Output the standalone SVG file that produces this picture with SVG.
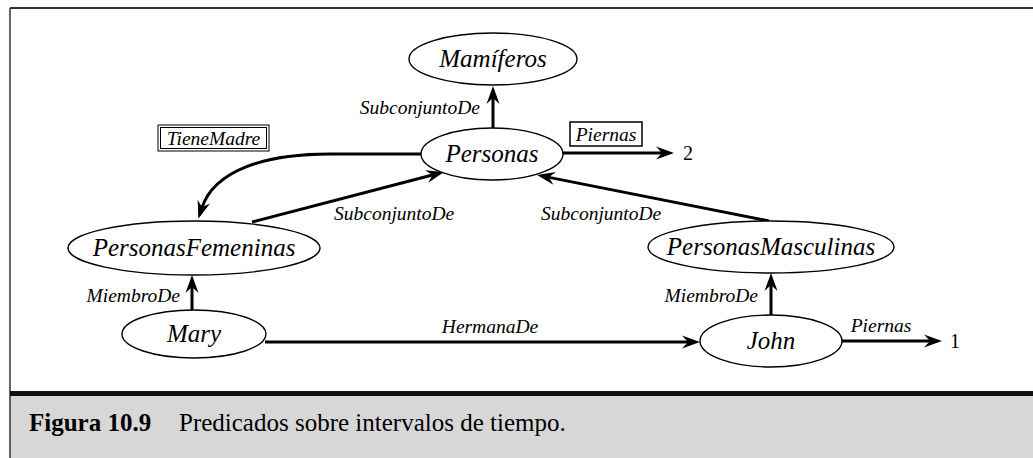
<svg xmlns="http://www.w3.org/2000/svg" width="1033" height="458" viewBox="0 0 1033 458">
<style>
.node ellipse{fill:#fff;stroke:#000;stroke-width:1.4}
.nl{font-family:"Liberation Serif","Times New Roman",serif;font-style:italic;font-size:25px;text-anchor:middle;fill:#000}
.el{font-family:"Liberation Serif","Times New Roman",serif;font-style:italic;font-size:19.5px;fill:#000}
.num{font-family:"Liberation Serif","Times New Roman",serif;font-size:20px;fill:#000}
.edge{fill:none;stroke:#000;stroke-width:3;marker-end:url(#ah)}
.cap{font-family:"Liberation Serif","Times New Roman",serif;font-size:25px;fill:#000}
</style>
<defs>
<marker id="ah" markerUnits="userSpaceOnUse" markerWidth="20" markerHeight="16" viewBox="0 -8 20 16" refX="7" refY="0" orient="auto">
<path d="M0,-6.5 L18,0 L0,6.5 L6,0 Z" fill="#000"/>
</marker>
</defs>
<rect x="0" y="0" width="1033" height="458" fill="#fff"/>
<g id="frame">
<rect x="10" y="396" width="1023" height="62" fill="#d7d7d7"/>
<line x1="10" y1="8" x2="1033" y2="8" stroke="#333" stroke-width="2"/>
<line x1="10" y1="8" x2="10" y2="458" stroke="#333" stroke-width="1.5"/>
<rect x="10" y="391" width="1023" height="5" fill="#111"/>
<text class="cap" x="29" y="431" font-weight="bold">Figura 10.9</text>
<text class="cap" x="179" y="431">Predicados sobre intervalos de tiempo.</text>
</g>
<g id="connectors">
<line class="edge" x1="493" y1="128" x2="493" y2="97"/>
<text class="el" x="480" y="114" text-anchor="end">SubconjuntoDe</text>
<path class="edge" d="M421,154 L330,154 C265,154 214,170 201.7,208.3"/>
<line class="edge" x1="252" y1="222" x2="433.4" y2="174.8"/>
<text class="el" x="334" y="220">SubconjuntoDe</text>
<line class="edge" x1="769" y1="221" x2="547.8" y2="177.1"/>
<text class="el" x="541" y="220">SubconjuntoDe</text>
<line class="edge" x1="563" y1="153" x2="663" y2="153"/>
<text class="num" x="683" y="160">2</text>
<line class="edge" x1="192" y1="310" x2="192" y2="286"/>
<text class="el" x="180" y="302" text-anchor="end">MiembroDe</text>
<line class="edge" x1="771" y1="315" x2="771" y2="284"/>
<text class="el" x="758" y="302" text-anchor="end">MiembroDe</text>
<line class="edge" x1="265" y1="342" x2="689" y2="342"/>
<text class="el" x="490" y="333" text-anchor="middle">HermanaDe</text>
<line class="edge" x1="841" y1="341" x2="931" y2="341"/>
<text class="el" x="881" y="332" text-anchor="middle">Piernas</text>
<text class="num" x="950" y="348">1</text>
</g>
<g id="label-TieneMadre">
<rect x="158" y="125" width="111" height="26" fill="#fff" stroke="#000" stroke-width="1"/>
<rect x="160.5" y="127.5" width="106" height="21" fill="none" stroke="#000" stroke-width="1"/>
<text class="el" x="213.5" y="145" text-anchor="middle">TieneMadre</text>
</g>
<g id="label-Piernas">
<rect x="570" y="122" width="72" height="24" fill="#fff" stroke="#000" stroke-width="1.5"/>
<text class="el" x="606" y="141" text-anchor="middle">Piernas</text>
</g>
<g id="node-Mamiferos" class="node">
<ellipse cx="493" cy="59" rx="84" ry="26"/>
<text class="nl" x="493" y="67">Mamíferos</text>
</g>
<g id="node-Personas" class="node">
<ellipse cx="492" cy="154" rx="71" ry="26"/>
<text class="nl" x="492" y="162">Personas</text>
</g>
<g id="node-PersonasFemeninas" class="node">
<ellipse cx="194" cy="248" rx="126" ry="27"/>
<text class="nl" x="194" y="256">PersonasFemeninas</text>
</g>
<g id="node-PersonasMasculinas" class="node">
<ellipse cx="771" cy="247" rx="123" ry="26"/>
<text class="nl" x="771" y="255">PersonasMasculinas</text>
</g>
<g id="node-Mary" class="node">
<ellipse cx="194" cy="334" rx="72" ry="24"/>
<text class="nl" x="194" y="342">Mary</text>
</g>
<g id="node-John" class="node">
<ellipse cx="771" cy="341" rx="71" ry="26"/>
<text class="nl" x="771" y="349">John</text>
</g>
</svg>
